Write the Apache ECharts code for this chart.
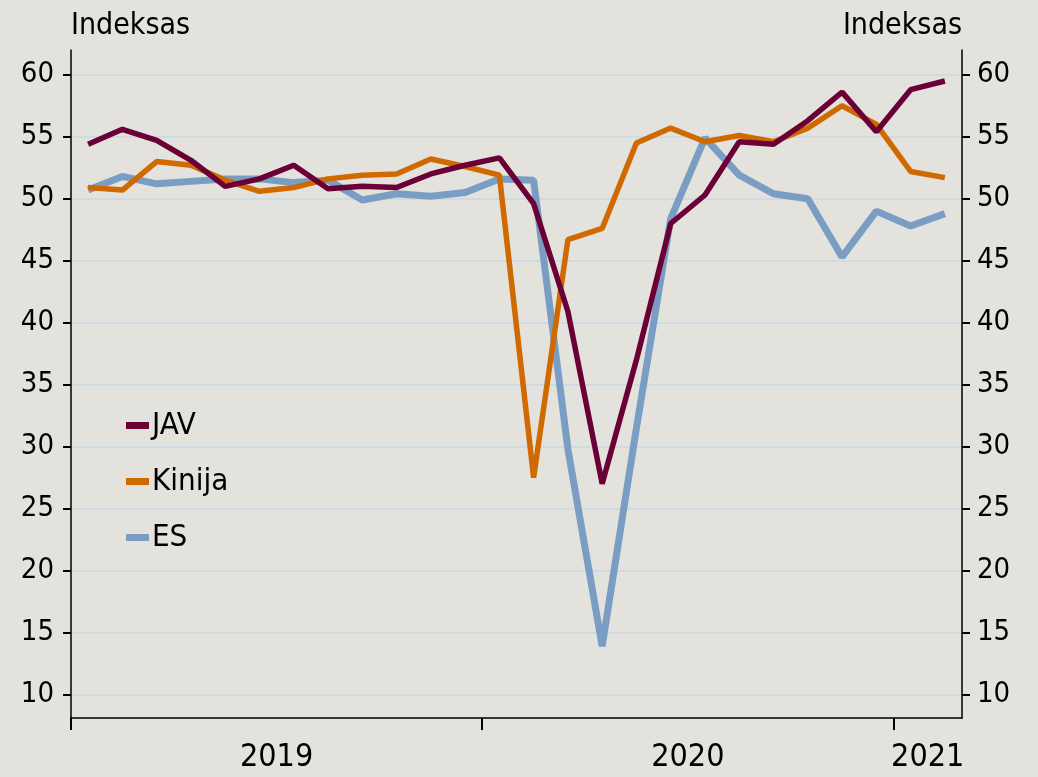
<!DOCTYPE html>
<html>
<head>
<meta charset="utf-8">
<style>
  html, body { margin: 0; padding: 0; background: #e3e2dd; }
  #chart { width: 1038px; height: 777px; }
</style>
<script src="https://cdn.jsdelivr.net/npm/echarts@6/dist/echarts.min.js"></script>
</head>
<body>
<div id="chart"></div>
<script>
  // menesiai nuo 2019-01 iki 2021-02
  var months = ['2019-01', '2019-02', '2019-03', '2019-04', '2019-05', '2019-06', '2019-07', '2019-08', '2019-09', '2019-10', '2019-11', '2019-12',
    '2020-01', '2020-02', '2020-03', '2020-04', '2020-05', '2020-06', '2020-07', '2020-08', '2020-09', '2020-10', '2020-11', '2020-12',
    '2021-01', '2021-02']
  var yearLabels = ['2019', '2020', '2021']
  var yearLabelPos = [6, 18, 25] // menesio indeksas, kur rasomas metu uzrasas
  var yearTicks = [0, 12, 24]
  var yTicks = [10, 15, 20, 25, 30, 35, 40, 45, 50, 55, 60]

  var jav = [54.4, 55.6, 54.7, 53.1, 51.0, 51.6, 52.7, 50.8, 51.0, 50.9, 52.0, 52.7,
    53.3, 49.6, 40.9, 27.0, 37.0, 48.0, 50.3, 54.6, 54.4, 56.3, 58.6, 55.4, 58.8, 59.5]
  var kinija = [50.9, 50.7, 53.0, 52.7, 51.5, 50.6, 50.9, 51.6, 51.9, 52.0, 53.2, 52.6,
    51.9, 27.5, 46.7, 47.6, 54.5, 55.7, 54.6, 55.1, 54.6, 55.7, 57.5, 56.0, 52.2, 51.7]
  var es = [50.7, 51.8, 51.2, 51.4, 51.6, 51.6, 51.3, 51.5, 49.9, 50.4, 50.2, 50.5,
    51.6, 51.5, 29.8, 13.9, 31.5, 48.4, 54.9, 51.9, 50.4, 50.0, 45.3, 49.0, 47.8, 48.8]

  var FONT = "'DejaVu Sans Condensed', 'DejaVu Sans', sans-serif"

  function toPoints(arr) {
    // taskas menesio viduryje
    return arr.map(function (v, i) { return [i + 0.5, v] })
  }

  var chart = echarts.init(document.getElementById('chart'))

  var yAxisBase = function (pos) {
    return {
      type: 'value',
      position: pos,
      min: 8.1,
      max: 62,
      name: 'Indeksas',
      nameLocation: 'end',
      nameGap: 9,
      nameTextStyle: {
        fontFamily: FONT,
        fontSize: 30,
        color: '#000',
        align: pos === 'left' ? 'left' : 'right',
        verticalAlign: 'bottom'
      },
      axisLine: { show: true, lineStyle: { color: '#000', width: 1.5 } },
      axisTick: { show: true, length: 8, customValues: yTicks, lineStyle: { color: '#000', width: 2 } },
      axisLabel: {
        customValues: yTicks,
        margin: pos === 'left' ? 17 : 15,
        fontFamily: FONT,
        fontSize: 29,
        color: '#000'
      },
      splitLine: { show: pos === 'left', lineStyle: { color: '#cfdbe2', width: 2 } }
    }
  }

  chart.setOption({
    backgroundColor: '#e3e2dd',
    animation: false,
    grid: { left: 71, right: 76, top: 50, bottom: 59 },
    legend: {
      orient: 'vertical',
      left: 121,
      top: 405,
      icon: 'rect',
      itemWidth: 23,
      itemHeight: 7,
      itemGap: 25,
      data: ['JAV', 'Kinija', 'ES'],
      textStyle: { fontFamily: FONT, fontSize: 31, color: '#000', padding: [0, 0, 0, -2] }
    },
    xAxis: {
      type: 'value',
      min: 0,
      max: months.length,
      axisLine: { show: true, onZero: false, lineStyle: { color: '#000', width: 1.5 } },
      axisTick: { show: true, length: 12, customValues: yearTicks, lineStyle: { color: '#000', width: 2 } },
      axisLabel: {
        customValues: yearLabelPos,
        formatter: function (v) {
          return yearLabels[yearLabelPos.indexOf(v)]
        },
        margin: 24,
        fontFamily: FONT,
        fontSize: 32,
        color: '#000'
      },
      splitLine: { show: false }
    },
    yAxis: [yAxisBase('left'), yAxisBase('right')],
    series: [
      {
        name: 'ES',
        type: 'line',
        data: toPoints(es),
        showSymbol: false,
        symbol: 'none',
        lineStyle: { color: '#7a9ec3', width: 7, join: 'bevel' },
        itemStyle: { color: '#7a9ec3' }
      },
      {
        name: 'Kinija',
        type: 'line',
        data: toPoints(kinija),
        showSymbol: false,
        symbol: 'none',
        lineStyle: { color: '#d06a00', width: 5.5, join: 'bevel' },
        itemStyle: { color: '#d06a00' }
      },
      {
        name: 'JAV',
        type: 'line',
        data: toPoints(jav),
        showSymbol: false,
        symbol: 'none',
        lineStyle: { color: '#6a0035', width: 5.5, join: 'bevel' },
        itemStyle: { color: '#6a0035' }
      }
    ]
  })
</script>
</body>
</html>
